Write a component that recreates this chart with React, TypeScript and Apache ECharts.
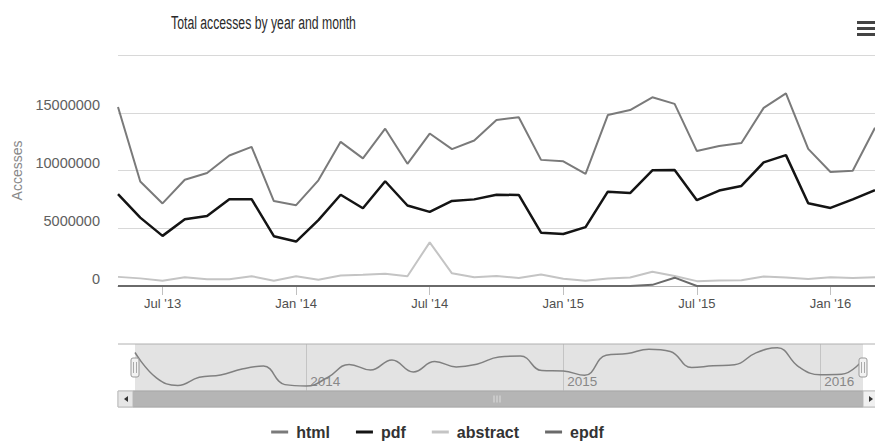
import React, { useEffect, useRef } from "react";
import * as echarts from "echarts";

const months = [
  "May '13", "Jun '13", "Jul '13", "Aug '13", "Sep '13", "Oct '13", "Nov '13", "Dec '13",
  "Jan '14", "Feb '14", "Mar '14", "Apr '14", "May '14", "Jun '14", "Jul '14", "Aug '14",
  "Sep '14", "Oct '14", "Nov '14", "Dec '14", "Jan '15", "Feb '15", "Mar '15", "Apr '15",
  "May '15", "Jun '15", "Jul '15", "Aug '15", "Sep '15", "Oct '15", "Nov '15", "Dec '15",
  "Jan '16", "Feb '16", "Mar '16",
];

const html = [
  15500000, 9050000, 7150000, 9200000, 9780000, 11300000, 12050000, 7350000,
  7000000, 9150000, 12480000, 11050000, 13620000, 10580000, 13200000, 11850000,
  12600000, 14370000, 14610000, 10920000, 10800000, 9700000, 14800000, 15230000,
  16340000, 15770000, 11680000, 12120000, 12380000, 15420000, 16680000, 11870000,
  9870000, 9980000, 13700000,
];

const pdf = [
  7960000, 5920000, 4340000, 5770000, 6060000, 7520000, 7520000, 4310000,
  3850000, 5710000, 7900000, 6730000, 9070000, 6970000, 6420000, 7360000,
  7500000, 7900000, 7880000, 4620000, 4500000, 5100000, 8170000, 8050000,
  10020000, 10050000, 7430000, 8260000, 8660000, 10700000, 11330000, 7170000,
  6760000, 7500000, 8300000,
];

const abstract = [
  790000, 660000, 450000, 750000, 580000, 580000, 850000, 450000,
  850000, 550000, 900000, 980000, 1070000, 850000, 3780000, 1100000,
  750000, 870000, 700000, 1000000, 620000, 450000, 650000, 730000,
  1240000, 870000, 420000, 480000, 500000, 830000, 730000, 600000,
  750000, 700000, 750000,
];

const epdf = [
  0, 0, 0, 0, 0, 0, 0, 0,
  0, 0, 0, 0, 0, 0, 0, 0,
  0, 0, 0, 0, 0, 0, 0, 0,
  100000, 720000, 0, 0, 0, 0, 0, 0,
  0, 0, 0,
];

const seriesNames = ["html", "pdf", "abstract", "epdf"];
const seriesColors = ["#7a7a7a", "#141414", "#c4c4c4", "#6a6a6a"];
const seriesWidths = [2, 2.5, 2, 2];
const seriesData = [html, pdf, abstract, epdf];

const yMin = 0;
const yMax = 20000000;
const yStep = 5000000;

const isHalfYear = (i: number) => /^(Jan|Jul)/.test(months[i]);
const isJan = (i: number) => /^Jan/.test(months[i]);

export default function App() {
  const ref = useRef<HTMLDivElement>(null);

  useEffect(() => {
    if (!ref.current) return;
    const chart = echarts.init(ref.current, undefined, { renderer: "svg" });
    const font = "Liberation Sans";

    const handle = (cx: number) => ({
      type: "group",
      z: 100,
      children: [
        {
          type: "rect",
          shape: { x: cx - 4, y: 358, width: 8, height: 19, r: 2 },
          style: { fill: "#f2f2f2", stroke: "#999999", lineWidth: 1 },
          z: 100,
        },
        {
          type: "line",
          shape: { x1: cx - 1.5, y1: 362, x2: cx - 1.5, y2: 373 },
          style: { stroke: "#aaaaaa", lineWidth: 1 },
          z: 101,
        },
        {
          type: "line",
          shape: { x1: cx + 1.5, y1: 362, x2: cx + 1.5, y2: 373 },
          style: { stroke: "#aaaaaa", lineWidth: 1 },
          z: 101,
        },
      ],
    });

    const option: any = {
      animation: false,
      backgroundColor: "#ffffff",
      textStyle: { fontFamily: font },
      legend: {
        data: seriesNames,
        top: 423,
        left: "center",
        padding: 0,
        icon: "rect",
        itemWidth: 17,
        itemHeight: 3,
        itemGap: 26,
        textStyle: {
          fontSize: 16,
          lineHeight: 18,
          fontWeight: "bold",
          color: "#333333",
          fontFamily: font,
          padding: [0, 0, 0, 3],
        },
      },
      grid: [
        { left: 118, top: 55, width: 760, height: 231 },
        {
          left: 135,
          top: 344,
          width: 728,
          height: 47,
          show: true,
          backgroundColor: "#e3e3e3",
          borderWidth: 0,
        },
      ],
      xAxis: [
        {
          type: "category",
          gridIndex: 0,
          data: months,
          boundaryGap: false,
          axisLine: { lineStyle: { color: "#b8b8b8", width: 1 } },
          axisTick: {
            interval: (i: number) => isHalfYear(i),
            length: 9,
            lineStyle: { color: "#c0c0c0" },
          },
          axisLabel: {
            interval: (i: number) => isHalfYear(i),
            color: "#505050",
            fontSize: 13,
            margin: 11,
            fontFamily: font,
          },
          splitLine: { show: false },
        },
        {
          type: "category",
          gridIndex: 1,
          data: months,
          boundaryGap: false,
          axisLine: { show: false },
          axisTick: { show: false },
          axisLabel: {
            inside: true,
            interval: (i: number) => isJan(i),
            formatter: (v: string) => "20" + v.slice(-2),
            color: "#888888",
            fontSize: 13.5,
            align: "left",
            padding: [0, 0, 0, 4],
            margin: 3,
            fontFamily: font,
          },
          splitLine: {
            show: true,
            interval: (i: number) => isJan(i),
            lineStyle: { color: "#c4c4c4", width: 1 },
          },
        },
      ],
      yAxis: [
        {
          type: "value",
          gridIndex: 0,
          min: yMin,
          max: yMax,
          interval: yStep,
          name: "Accesses",
          nameLocation: "middle",
          nameGap: 94,
          nameRotate: 90,
          nameTextStyle: { color: "#888888", fontSize: 14, fontFamily: font },
          axisLine: { show: false },
          axisTick: { show: false },
          axisLabel: {
            color: "#606060",
            fontSize: 14.5,
            margin: 18,
            verticalAlign: "bottom",
            fontFamily: font,
            formatter: (v: number) => (v >= yMax ? "" : String(v)),
          },
          splitLine: { lineStyle: { color: "#d8d8d8", width: 1 } },
        },
        {
          type: "value",
          gridIndex: 1,
          min: 5730000,
          max: 17660000,
          show: false,
          splitLine: { show: false },
        },
      ],
      series: [
        ...seriesNames.map((name, k) => ({
          name,
          type: "line",
          xAxisIndex: 0,
          yAxisIndex: 0,
          data: seriesData[k],
          color: seriesColors[k],
          showSymbol: false,
          symbol: "none",
          lineStyle: { color: seriesColors[k], width: seriesWidths[k] },
          z: 2 + k,
        })),
        {
          name: "navigator",
          type: "line",
          xAxisIndex: 1,
          yAxisIndex: 1,
          data: html,
          smooth: 0.45,
          showSymbol: false,
          symbol: "none",
          color: "#808080",
          lineStyle: { color: "#808080", width: 1.5 },
          z: 3,
        },
      ],
      graphic: [
        {
          type: "text",
          x: 263.5,
          y: 23,
          scaleX: 0.68,
          style: {
            text: "Total accesses by year and month",
            fontSize: 18,
            fontFamily: font,
            fill: "#2a2a2a",
            align: "center",
            verticalAlign: "middle",
          },
        },
        { type: "rect", shape: { x: 857, y: 21, width: 22, height: 3 }, style: { fill: "#444444" } },
        { type: "rect", shape: { x: 857, y: 27, width: 22, height: 3 }, style: { fill: "#444444" } },
        { type: "rect", shape: { x: 857, y: 33, width: 22, height: 3 }, style: { fill: "#444444" } },
        {
          type: "line",
          z: 50,
          shape: { x1: 118, y1: 344, x2: 880, y2: 344 },
          style: { stroke: "#b0b0b0", lineWidth: 1 },
        },
        {
          type: "rect",
          z: 50,
          shape: { x: 118, y: 391, width: 762, height: 16 },
          style: { fill: "#eeeeee", stroke: "#cccccc", lineWidth: 1 },
        },
        {
          type: "rect",
          z: 51,
          shape: { x: 133, y: 391, width: 730, height: 16 },
          style: { fill: "#b5b5b5", stroke: "#a8a8a8", lineWidth: 1 },
        },
        {
          type: "rect",
          z: 51,
          shape: { x: 118, y: 391, width: 15, height: 16 },
          style: { fill: "#e6e6e6", stroke: "#bbbbbb", lineWidth: 1 },
        },
        {
          type: "polygon",
          z: 52,
          shape: { points: [[124, 399], [128, 396], [128, 402]] },
          style: { fill: "#333333" },
        },
        {
          type: "rect",
          z: 51,
          shape: { x: 863, y: 391, width: 15, height: 16 },
          style: { fill: "#f0f0f0", stroke: "#bbbbbb", lineWidth: 1 },
        },
        {
          type: "polygon",
          z: 52,
          shape: { points: [[873, 399], [869, 396], [869, 402]] },
          style: { fill: "#333333" },
        },
        ...[494, 497, 500].map((x) => ({
          type: "line",
          z: 52,
          shape: { x1: x, y1: 395.5, x2: x, y2: 402.5 },
          style: { stroke: "#dddddd", lineWidth: 1 },
        })),
        handle(135),
        handle(863),
      ],
    };

    chart.setOption(option);
    return () => chart.dispose();
  }, []);

  return (
    <div
      ref={ref}
      style={{ position: "fixed", left: 0, top: 0, width: 875, height: 442 }}
    />
  );
}
